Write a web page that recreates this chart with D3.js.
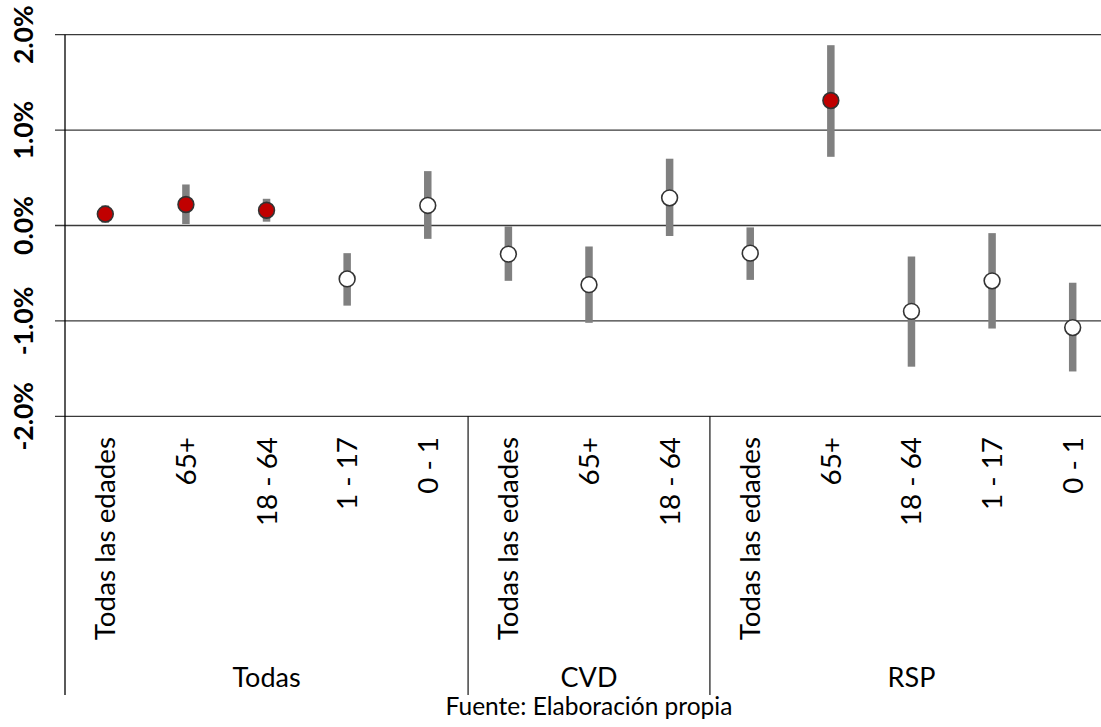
<!DOCTYPE html>
<html>
<head>
<meta charset="utf-8">
<script src="https://cdn.jsdelivr.net/npm/d3@7"></script>
<style>
  body { margin: 0; background: #fff; }
  svg { display: block; }
  .label { font-family: Lato, "Open Sans", sans-serif; fill: #000; }
</style>
</head>
<body>
<div class="chart-container"></div>
<script>
// data (values in %)
var groups = ['Todas', 'CVD', 'RSP'];
var categories = ['Todas las edades', '65+', '18 - 64', '1 - 17', '0 - 1',
                  'Todas las edades', '65+', '18 - 64',
                  'Todas las edades', '65+', '18 - 64', '1 - 17', '0 - 1'];
var groupOf = ['Todas', 'Todas', 'Todas', 'Todas', 'Todas',
               'CVD', 'CVD', 'CVD',
               'RSP', 'RSP', 'RSP', 'RSP', 'RSP'];
var estimate = [0.12, 0.22, 0.16, -0.56, 0.21, -0.30, -0.62, 0.29, -0.29, 1.31, -0.90, -0.58, -1.07];
var lower    = [0.03, 0.015, 0.04, -0.84, -0.14, -0.58, -1.02, -0.11, -0.57, 0.72, -1.48, -1.08, -1.53];
var upper    = [0.21, 0.43, 0.28, -0.29, 0.57, -0.01, -0.22, 0.70, -0.02, 1.89, -0.325, -0.08, -0.60];
var significant = [true, true, true, false, false, false, false, false, false, true, false, false, false];
var yTicks = [-2, -1, 0, 1, 2];
var source = 'Fuente: Elaboración propia';

var width = 1101, height = 727;
var margin = {top: 34.7, left: 65, bottom: 416.3},
    plotRight = 1113,      // the category axis runs a little past the window edge
    axisBottomEnd = 695;

var svg = d3.select('.chart-container').append('svg')
    .attr('width', width)
    .attr('height', height);

var idx = d3.range(categories.length);
var x = d3.scaleBand().domain(idx).range([margin.left, plotRight]).padding(0);
var y = d3.scaleLinear().domain([-2, 2]).range([margin.bottom, margin.top]);

/// gridlines + ticks
svg.append('g').selectAll('line.grid')
    .data(yTicks)
    .enter().append('line')
    .attr('class', 'grid')
    .attr('x1', margin.left - 10)
    .attr('x2', width)
    .attr('y1', function(d) { return y(d); })
    .attr('y2', function(d) { return y(d); })
    .style('stroke', '#3a3a3a')
    .style('stroke-width', 1.3);

/// y tick labels (rotated, bold)
svg.append('g').selectAll('text')
    .data(yTicks)
    .enter().append('text')
    .attr('class', 'label')
    .attr('transform', function(d) { return 'translate(33,' + y(d) + ') rotate(-90)'; })
    .style('text-anchor', 'middle')
    .style('font-size', '26.5px')
    .style('font-weight', 'bold')
    .text(function(d) { return d.toFixed(1) + '%'; });

/// left axis line
svg.append('line')
    .attr('x1', margin.left).attr('x2', margin.left)
    .attr('y1', margin.top).attr('y2', axisBottomEnd)
    .style('stroke', '#000')
    .style('stroke-width', 1.3);

/// group separators
var groupStart = groups.map(function(g) { return groupOf.indexOf(g); });
var groupEnd = groups.map(function(g) { return groupOf.lastIndexOf(g); });

svg.append('g').selectAll('line')
    .data(groupStart.slice(1))
    .enter().append('line')
    .attr('x1', function(d) { return x(d); })
    .attr('x2', function(d) { return x(d); })
    .attr('y1', margin.bottom)
    .attr('y2', axisBottomEnd)
    .style('stroke', '#000')
    .style('stroke-width', 1.1);

/// category labels
svg.append('g').selectAll('text')
    .data(idx)
    .enter().append('text')
    .attr('class', 'label')
    .attr('transform', function(i) {
        return 'translate(' + (x(i) + x.bandwidth() / 2 + 10) + ',437) rotate(-90)';
    })
    .style('text-anchor', 'end')
    .style('font-size', '27.8px')
    .text(function(i) { return categories[i]; });

/// group labels
svg.append('g').selectAll('text')
    .data(groups)
    .enter().append('text')
    .attr('class', 'label')
    .attr('x', function(g, k) { return (x(groupStart[k]) + x(groupEnd[k]) + x.bandwidth()) / 2; })
    .attr('y', 687)
    .style('text-anchor', 'middle')
    .style('font-size', '27px')
    .text(function(g) { return g; });

/// error bars
svg.append('g').selectAll('rect')
    .data(idx)
    .enter().append('rect')
    .attr('x', function(i) { return x(i) + x.bandwidth() / 2 - 3.75; })
    .attr('width', 7.5)
    .attr('y', function(i) { return y(upper[i]); })
    .attr('height', function(i) { return y(lower[i]) - y(upper[i]); })
    .style('fill', '#808080');

/// point estimates
svg.append('g').selectAll('circle')
    .data(idx)
    .enter().append('circle')
    .attr('cx', function(i) { return x(i) + x.bandwidth() / 2; })
    .attr('cy', function(i) { return y(estimate[i]); })
    .attr('r', 7.9)
    .style('fill', function(i) { return significant[i] ? '#C00000' : '#fff'; })
    .style('stroke', '#333')
    .style('stroke-width', 1.6);

/// source note
svg.append('text')
    .attr('class', 'label')
    .attr('x', (margin.left + plotRight) / 2)
    .attr('y', 715)
    .style('text-anchor', 'middle')
    .style('font-size', '24.5px')
    .text(source);
</script>
</body>
</html>
